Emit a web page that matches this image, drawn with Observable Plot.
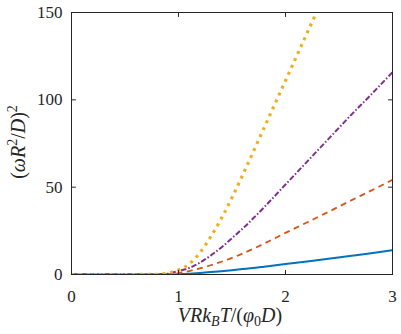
<!DOCTYPE html>
<html><head><meta charset="utf-8">
<script src="https://cdn.jsdelivr.net/npm/d3@7"></script>
<script src="https://cdn.jsdelivr.net/npm/@observablehq/plot@0.6"></script>
<style>
body{margin:0;background:#fff}
#chart{width:401px;height:334px}
</style>
</head><body><div id="chart"></div>
<script>
const xs     = [0, 0.5, 0.8, 0.9, 1.0, 1.1, 1.2, 1.3, 1.4, 1.5, 1.6, 1.8, 2.0, 2.2, 2.4, 2.6, 2.8, 3.0];
const blue   = [0, 0, 0, 0.05, 0.2, 0.5, 0.9, 1.4, 1.9, 2.5, 3.1, 4.5, 6.0, 7.5, 9.0, 10.6, 12.2, 13.9];
const orange = [0, 0, 0, 0.2, 0.8, 2.0, 3.5, 5.3, 7.3, 9.5, 12.0, 17.7, 23.8, 29.8, 35.8, 42.0, 48.0, 54.2];
const purple = [0, 0, 0.05, 0.5, 2.0, 3.7, 6.8, 10.8, 15.5, 20.8, 26.3, 38.5, 51.5, 64.5, 77.5, 90.5, 103.0, 115.8];
const yellow = [0, 0, 0.1, 0.9, 2.6, 6.0, 12.5, 21.5, 32, 44, 57, 84, 111, 138, 165, null, null, null];
const xTicks = [0, 1, 2, 3];
const yTicks = [0, 50, 100, 150];

const series = [
  {name: "s1", values: blue,   color: "#0072BD", dash: null,          width: 2},
  {name: "s2", values: orange, color: "#D95319", dash: "6,4.5",       width: 1.8},
  {name: "s3", values: purple, color: "#7E2F8E", dash: "5.5,2,1.5,2", width: 2},
  {name: "s4", values: yellow, color: "#EDB120", dash: "3,4.6",       width: 3.2}
];

const FONT = "Liberation Serif";
const tick = {draw(context, l) { context.moveTo(0, 0); context.lineTo(0, -l); }};
const axisColor = "#262626";

const marks = [];
for (const s of series) {
  const data = xs.map((x, i) => ({x, y: s.values[i]}));
  marks.push(Plot.line(data, {
    x: "x", y: "y", stroke: s.color, strokeWidth: s.width,
    strokeDasharray: s.dash, curve: "monotone-x", clip: true,
    strokeLinecap: "butt"
  }));
}
const tickOpts = {length: 4, anchor: "start", shape: tick, stroke: axisColor, strokeWidth: 1};
marks.push(
  Plot.vector(xTicks, {...tickOpts, x: d => d, frameAnchor: "bottom", rotate: 0}),
  Plot.vector(xTicks, {...tickOpts, x: d => d, frameAnchor: "top", rotate: 180}),
  Plot.vector(yTicks, {...tickOpts, y: d => d, frameAnchor: "left", rotate: 90}),
  Plot.vector(yTicks, {...tickOpts, y: d => d, frameAnchor: "right", rotate: -90}),
  Plot.frame({stroke: axisColor, strokeWidth: 1}),
  Plot.axisX({ticks: xTicks, tickSize: 0, tickPadding: 15, label: null, fontSize: 17, fontFamily: FONT, tickFormat: d => String(d)}),
  Plot.axisY({ticks: yTicks, tickSize: 0, tickPadding: 9, label: null, fontSize: 17, fontFamily: FONT, tickFormat: d => String(d)})
);

const plot = Plot.plot({
  width: 401, height: 334,
  marginLeft: 71, marginRight: 9, marginTop: 12, marginBottom: 60,
  x: {domain: [0, 3]},
  y: {domain: [0, 150]},
  style: {color: axisColor, background: "#fff", overflow: "visible"},
  marks
});
plot.setAttribute("font-family", FONT);
document.getElementById("chart").appendChild(plot);

const svg = d3.select(plot);
// x label: VRk_BT/(φ_0 D)
const xl = svg.append("text")
  .attr("x", 230).attr("y", 322)
  .attr("text-anchor", "middle")
  .attr("font-size", 20)
  .attr("font-family", FONT)
  .attr("fill", axisColor);
xl.append("tspan").attr("font-style", "italic").text("VRk");
xl.append("tspan").attr("font-style", "italic").attr("font-size", 14).attr("dy", 4).text("B");
xl.append("tspan").attr("font-style", "italic").attr("dy", -4).text("T");
xl.append("tspan").text("/(");
xl.append("tspan").attr("font-style", "italic").text("φ");
xl.append("tspan").attr("font-size", 14).attr("dy", 4).text("0");
xl.append("tspan").attr("font-style", "italic").attr("dy", -4).text("D");
xl.append("tspan").text(")");

// y label: (ωR²/D)²
const yl = svg.append("text")
  .attr("transform", "translate(25,142) rotate(-90)")
  .attr("text-anchor", "middle")
  .attr("font-size", 20)
  .attr("font-family", FONT)
  .attr("fill", axisColor);
yl.append("tspan").text("(");
yl.append("tspan").attr("font-style", "italic").text("ωR");
yl.append("tspan").attr("font-size", 14).attr("dy", -8).text("2");
yl.append("tspan").attr("dy", 8).text("/");
yl.append("tspan").attr("font-style", "italic").text("D");
yl.append("tspan").text(")");
yl.append("tspan").attr("font-size", 14).attr("dy", -8).text("2");
</script>
</body></html>
